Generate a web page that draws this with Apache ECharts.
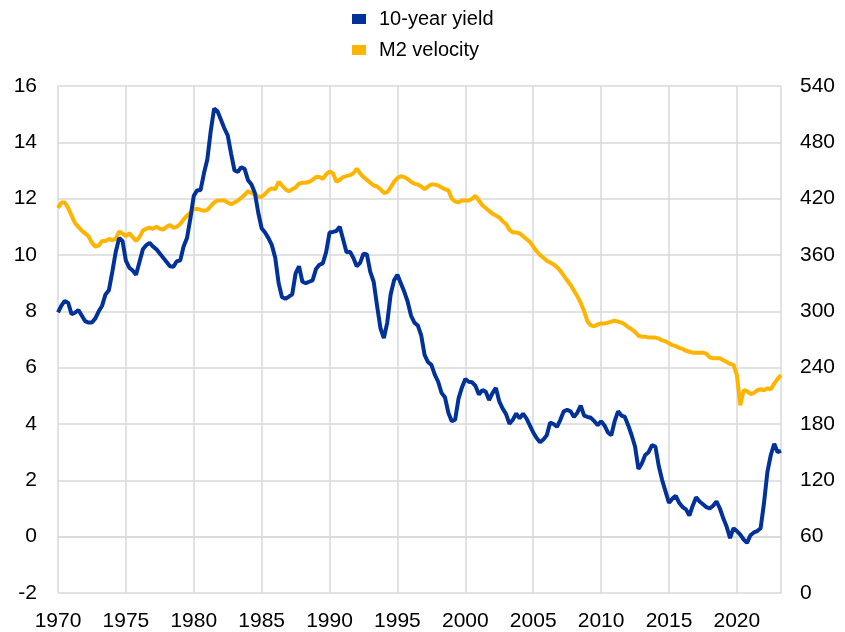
<!DOCTYPE html>
<html>
<head>
<meta charset="utf-8">
<script src="https://cdn.jsdelivr.net/npm/echarts@6/dist/echarts.min.js"></script>
<style>
  html, body { margin: 0; padding: 0; background: #fff; }
  #chart { width: 845px; height: 632px; }
</style>
</head>
<body>
<div id="chart"></div>
<script>
  // quarterly observations, 1970Q1 - 2023Q2
  const startYear = 1970;
  const quarterCount = 214;

  // 10-year yield, % (left axis)
  const yieldValues = [
    7.96, 8.2, 8.37, 8.3, 7.9, 7.95, 8.05, 7.85, 7.65, 7.6,
    7.6, 7.75, 8.0, 8.2, 8.6, 8.75, 9.4, 10.1, 10.6, 10.5,
    9.8, 9.55, 9.45, 9.3, 9.75, 10.2, 10.35, 10.43, 10.3, 10.2,
    10.05, 9.9, 9.75, 9.6, 9.58, 9.78, 9.8, 10.3, 10.6, 11.3,
    12.1, 12.3, 12.3, 12.9, 13.4, 14.4, 15.2, 15.1, 14.8, 14.5,
    14.25, 13.6, 13.0, 12.95, 13.12, 13.05, 12.65, 12.5, 12.2, 11.5,
    10.95, 10.8, 10.6, 10.35, 9.9, 9.0, 8.5, 8.45, 8.52, 8.6,
    9.35, 9.6, 9.05, 9.0, 9.05, 9.1, 9.5, 9.65, 9.7, 10.1,
    10.8, 10.82, 10.85, 11.0, 10.55, 10.1, 10.12, 9.9, 9.6, 9.72,
    10.05, 10.02, 9.4, 9.05, 8.2, 7.4, 7.05, 7.6, 8.6, 9.1,
    9.3, 9.0, 8.7, 8.35, 7.85, 7.6, 7.5, 7.15, 6.45, 6.2,
    6.1, 5.75, 5.5, 5.1, 4.95, 4.4, 4.1, 4.15, 4.9, 5.3,
    5.6, 5.5, 5.48, 5.35, 5.05, 5.2, 5.15, 4.85, 5.1, 5.28,
    4.8, 4.55, 4.35, 4.01, 4.15, 4.37, 4.2, 4.37, 4.2, 3.95,
    3.7, 3.5, 3.35, 3.45, 3.6, 4.05, 4.0, 3.9, 4.15, 4.45,
    4.5, 4.45, 4.25, 4.4, 4.65, 4.3, 4.25, 4.22, 4.1, 3.96,
    4.1, 3.95, 3.7, 3.6, 4.1, 4.45, 4.3, 4.25, 3.95, 3.6,
    3.2, 2.4, 2.6, 2.9, 3.0, 3.25, 3.2, 2.5, 2.0, 1.6,
    1.2, 1.35, 1.45, 1.2, 1.05, 0.97, 0.75, 1.1, 1.4, 1.25,
    1.15, 1.05, 1.0, 1.1, 1.25, 1.0, 0.65, 0.35, -0.05, 0.3,
    0.2, 0.07, -0.1, -0.22, 0.05, 0.15, 0.2, 0.3, 1.2, 2.3,
    2.9, 3.3, 3.0, 3.05
  ];

  // M2 velocity (right axis)
  const velocityValues = [
    410, 416, 416, 410, 402, 394, 390, 386, 383, 380,
    373, 369, 370, 375, 375, 377, 376, 377, 385, 383,
    380, 383, 379, 375, 379, 386, 388, 389, 388, 390,
    388, 387, 390, 392, 389, 390, 393, 398, 402, 405,
    409, 409, 408, 407, 408, 412, 416, 418, 418, 418,
    416, 414, 416, 418, 421, 424, 428, 426, 425, 422,
    422, 425, 429, 431, 430, 438, 434, 430, 428, 430,
    432, 436, 437, 437, 438, 440, 443, 443, 441, 446,
    449, 447, 438, 440, 443, 444, 445, 447, 452, 447,
    443, 440, 437, 434, 433, 430, 426, 427, 432, 438,
    442, 444, 443, 441, 438, 436, 435, 433, 430, 433,
    435, 435, 434, 432, 430, 429, 420, 417, 416, 418,
    418, 418, 420, 423, 418, 413, 410, 407, 404, 402,
    400, 396, 393, 387, 384, 384, 383, 380, 377, 374,
    369, 364, 360, 357, 354, 352, 350, 347, 343, 338,
    333, 328, 322, 316, 309, 300, 289, 285, 284, 286,
    287, 287, 288, 289, 290, 289, 288, 286, 283, 281,
    278, 274, 273, 273, 272, 272, 272, 271, 269, 268,
    266, 264, 263, 261, 260, 258, 257, 256, 256, 256,
    256, 255, 251, 250, 250, 250, 248, 246, 244, 243,
    232, 200, 216, 215, 212, 213, 216, 217, 216, 218,
    217, 223, 228, 232
  ];

  const quarters = [];
  for (let i = 0; i < quarterCount; i++) {
    quarters.push((startYear + Math.floor(i / 4)) + 'Q' + (i % 4 + 1));
  }

  const fontFamily = "'Liberation Sans', Arial, sans-serif";
  const gridColor = '#d9d9d9';
  const everyFiveYears = function (index) { return index % 20 === 0; };

  const chart = echarts.init(document.getElementById('chart'));
  chart.setOption({
    animation: false,
    textStyle: { fontFamily: fontFamily },
    legend: {
      data: ['10-year yield', 'M2 velocity'],
      orient: 'vertical',
      left: 347,
      top: 4,
      itemWidth: 14,
      itemHeight: 10,
      itemGap: 11,
      icon: 'rect',
      textStyle: { fontSize: 20, color: '#000', fontFamily: fontFamily, padding: [0, 0, 0, 8] }
    },
    grid: { left: 58, right: 64, top: 86, bottom: 37 },
    xAxis: {
      type: 'category',
      data: quarters,
      boundaryGap: false,
      axisLine: { lineStyle: { color: gridColor, width: 1.5 } },
      axisTick: { show: false },
      axisLabel: {
        interval: everyFiveYears,
        formatter: function (v) { return v.slice(0, 4); },
        fontSize: 21,
        color: '#000',
        margin: 18
      },
      splitLine: { show: true, interval: everyFiveYears, lineStyle: { color: gridColor, width: 1.5 } }
    },
    yAxis: [
      {
        type: 'value',
        min: -2,
        max: 16,
        interval: 2,
        axisLine: { show: false },
        axisTick: { show: false },
        axisLabel: { fontSize: 21, color: '#000', margin: 21 },
        splitLine: { lineStyle: { color: gridColor, width: 1.5 } }
      },
      {
        type: 'value',
        min: 0,
        max: 540,
        interval: 60,
        position: 'right',
        axisLine: { show: true, lineStyle: { color: gridColor, width: 1.5 } },
        axisTick: { show: false },
        axisLabel: { fontSize: 21, color: '#000', margin: 19 },
        splitLine: { show: false }
      }
    ],
    series: [
      {
        name: 'M2 velocity',
        type: 'line',
        yAxisIndex: 1,
        data: velocityValues,
        showSymbol: false,
        color: '#ffb400',
        lineStyle: { width: 4, color: '#ffb400' }
      },
      {
        name: '10-year yield',
        type: 'line',
        yAxisIndex: 0,
        data: yieldValues,
        showSymbol: false,
        color: '#003299',
        lineStyle: { width: 4, color: '#003299' }
      }
    ]
  });
</script>
</body>
</html>
